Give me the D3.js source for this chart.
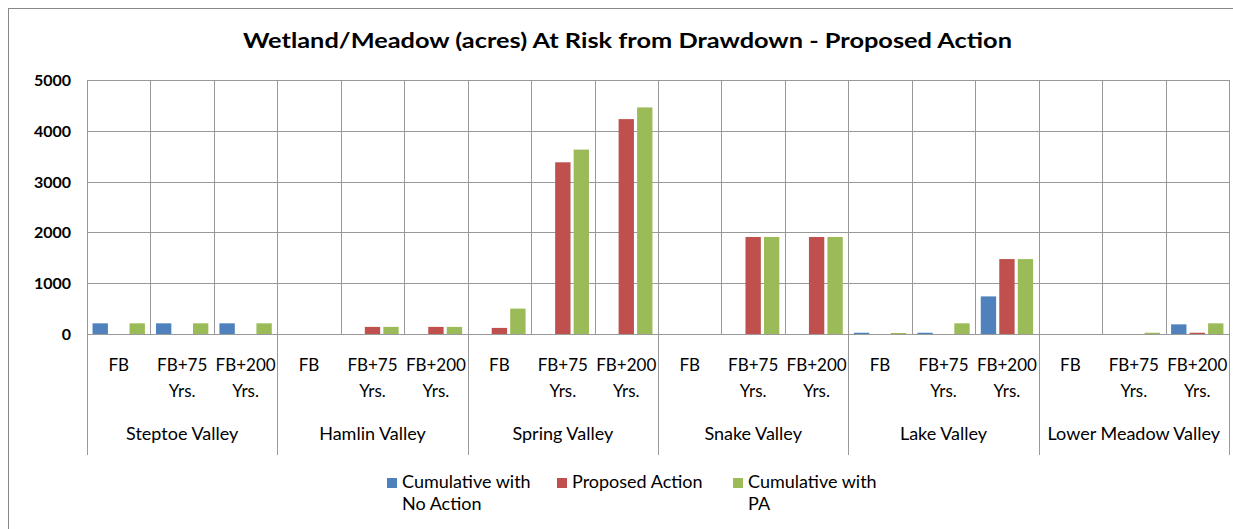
<!DOCTYPE html>
<html>
<head>
<meta charset="utf-8">
<script src="https://cdn.jsdelivr.net/npm/d3@7"></script>
<style>
  body { margin: 0; background: #fff; }
  text { font-family: Lato, "Open Sans", sans-serif; fill: #000; }
</style>
</head>
<body>
<div class="chart"></div>
<script>
var svgWidth = 1233;
var svgHeight = 529;

// data
var valleys = ["Steptoe Valley", "Hamlin Valley", "Spring Valley", "Snake Valley", "Lake Valley", "Lower Meadow Valley"];
var periods = ["FB", "FB+75 Yrs.", "FB+200 Yrs."];
var seriesNames = ["Cumulative with No Action", "Proposed Action", "Cumulative with PA"];
var seriesColors = ["#4F81BD", "#C0504D", "#9BBB59"];
var yTicks = [0, 1000, 2000, 3000, 4000, 5000];

// one value per valley/period, in valley order
var noAction = [210, 210, 210,   0, 0, 0,   0, 0, 0,   0, 0, 0,   25, 25, 740,   0, 0, 190];
var proposed = [0, 0, 0,   0, 140, 140,   120, 3380, 4230,   0, 1910, 1910,   0, 0, 1475,   0, 0, 25];
var withPA   = [210, 210, 210,   0, 140, 140,   500, 3630, 4460,   0, 1910, 1910,   20, 210, 1475,   0, 25, 210];

var margin = { top: 80, right: 4, bottom: 195, left: 87 };
var width = 1229 - margin.left;
var height = 334 - margin.top;

var svg = d3.select(".chart")
  .append("svg")
  .attr("width", svgWidth)
  .attr("height", svgHeight);

// chart border
svg.append("rect")
  .attr("x", 8.5).attr("y", 8.5)
  .attr("width", 1240).attr("height", 540)
  .attr("fill", "none")
  .attr("stroke", "#888");

svg.append("text")
  .attr("x", 627.5)
  .attr("y", 48)
  .attr("text-anchor", "middle")
  .attr("font-size", "21px")
  .attr("font-weight", "bold")
  .attr("textLength", 769)
  .attr("lengthAdjust", "spacingAndGlyphs")
  .text("Wetland/Meadow  (acres) At Risk from Drawdown  - Proposed Action");

var chartGroup = svg.append("g")
  .attr("transform", `translate(${margin.left}, ${margin.top})`);

// build rows: one per valley/period
var rows = [];
valleys.forEach(function(v, i) {
  periods.forEach(function(p, j) {
    var k = i * 3 + j;
    rows.push({ key: k, valley: v, period: p, values: [noAction[k], proposed[k], withPA[k]] });
  });
});

var xScale = d3.scaleBand()
  .domain(rows.map(d => d.key))
  .range([0, width])
  .padding(0);

var xSeries = d3.scaleBand()
  .domain([0, 1, 2])
  .range([0, xScale.bandwidth()])
  .paddingInner(0.17)
  .paddingOuter(0.3);

var yScale = d3.scaleLinear()
  .domain([0, 5000])
  .range([height, 0]);

// horizontal gridlines
chartGroup.append("g")
  .selectAll("line")
  .data(yTicks)
  .enter()
  .append("line")
  .attr("x1", 0).attr("x2", width)
  .attr("y1", d => Math.round(yScale(d)) + 0.5)
  .attr("y2", d => Math.round(yScale(d)) + 0.5)
  .attr("stroke", "#999");

// vertical gridlines between categories
chartGroup.append("g")
  .selectAll("line")
  .data(d3.range(rows.length + 1))
  .enter()
  .append("line")
  .attr("x1", d => Math.round(d * xScale.step()) + 0.5)
  .attr("x2", d => Math.round(d * xScale.step()) + 0.5)
  .attr("y1", 0)
  .attr("y2", d => d % 3 === 0 ? height + 121 : height)
  .attr("stroke", "#999");

// y tick labels
chartGroup.append("g")
  .selectAll("text")
  .data(yTicks)
  .enter()
  .append("text")
  .attr("x", -16)
  .attr("y", d => yScale(d) + 6)
  .attr("text-anchor", "end")
  .attr("font-size", "16px")
  .attr("font-weight", "bold")
  .text(d => d);

// bars
var groups = chartGroup.selectAll(".cat")
  .data(rows)
  .enter()
  .append("g")
  .attr("class", "cat")
  .attr("transform", d => `translate(${xScale(d.key)}, 0)`);

groups.selectAll("rect")
  .data(d => d.values.map((v, i) => ({ s: i, v: v })))
  .enter()
  .append("rect")
  .attr("x", d => xSeries(d.s))
  .attr("width", xSeries.bandwidth())
  .attr("y", d => yScale(d.v))
  .attr("height", d => height - yScale(d.v))
  .attr("fill", d => seriesColors[d.s]);

// category labels (two lines)
groups.each(function(d) {
  var parts = d.period === "FB" ? ["FB"] : [d.period.split(" ")[0], "Yrs."];
  var t = d3.select(this).append("text")
    .attr("text-anchor", "middle")
    .attr("font-size", "17px");
  parts.forEach(function(p, i) {
    t.append("tspan")
      .attr("x", xScale.bandwidth() / 2)
      .attr("y", height + 37 + i * 26)
      .text(p);
  });
});

// valley labels
chartGroup.append("g")
  .selectAll("text")
  .data(valleys)
  .enter()
  .append("text")
  .attr("x", (d, i) => (i * 3 + 1.5) * xScale.step())
  .attr("y", height + 106)
  .attr("text-anchor", "middle")
  .attr("font-size", "18px")
  .text(d => d);

// legend
var legendX = [387, 557, 733];
var legendLines = [["Cumulative with", "No Action"], ["Proposed Action"], ["Cumulative with", "PA"]];
var legend = svg.append("g");
legendLines.forEach(function(lines, i) {
  legend.append("rect")
    .attr("x", legendX[i])
    .attr("y", 478)
    .attr("width", 10).attr("height", 10)
    .attr("fill", seriesColors[i]);
  lines.forEach(function(l, j) {
    legend.append("text")
      .attr("x", legendX[i] + 15)
      .attr("y", 488 + j * 22)
      .attr("font-size", "18px")
      .text(l);
  });
});
</script>
</body>
</html>
